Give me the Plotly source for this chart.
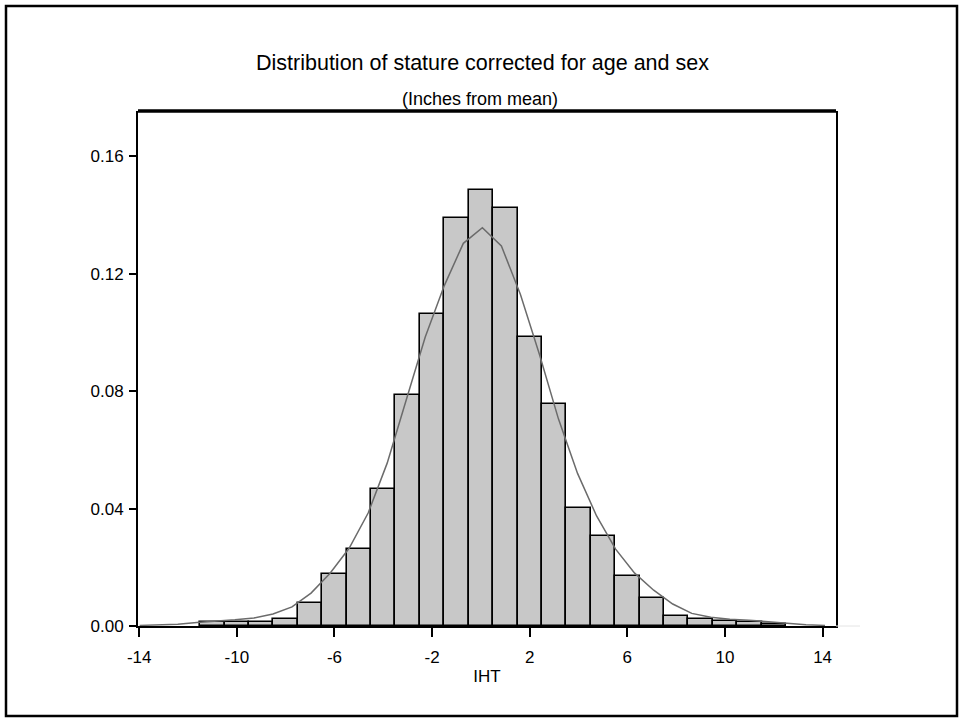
import plotly.graph_objects as go

# Histogram bins (inches from mean, bin centres) and densities
bin_centers = [-11, -10, -9, -8, -7, -6, -5, -4, -3, -2, -1, 0, 1, 2, 3, 4, 5, 6, 7, 8, 9, 10, 11, 12]
densities = [0.0014, 0.0012, 0.0012, 0.0025, 0.0079, 0.0177, 0.0264, 0.0466, 0.0788, 0.1062,
             0.1389, 0.1487, 0.1426, 0.0986, 0.0755, 0.0401, 0.0308, 0.0172, 0.0096, 0.0035,
             0.0023, 0.0016, 0.0013, 0.0007]

# Fitted density curve
curve_x = [-13.98, -13.20, -12.42, -11.64, -10.86, -10.08, -9.30, -8.52, -7.74, -6.96, -6.18,
           -5.40, -4.62, -3.84, -3.06, -2.28, -1.50, -0.72, 0.06, 0.84, 1.62, 2.40, 3.18, 3.96,
           4.74, 5.52, 6.30, 7.08, 7.86, 8.64, 9.42, 10.20, 10.98, 11.76, 12.54, 13.32, 14.10]
curve_y = [0.0002, 0.0003, 0.0006, 0.0012, 0.0016, 0.0021, 0.0027, 0.0041, 0.0065, 0.0112, 0.0180,
           0.0265, 0.0385, 0.0555, 0.0770, 0.0985, 0.1160, 0.1304, 0.1357, 0.1295, 0.1130, 0.0925,
           0.0705, 0.0520, 0.0375, 0.0262, 0.0180, 0.0122, 0.0075, 0.0043, 0.0030, 0.0023, 0.0020,
           0.0015, 0.0010, 0.0004, 0.0002]

x_ticks = [-14, -10, -6, -2, 2, 6, 10, 14]
y_ticks = [0.00, 0.04, 0.08, 0.12, 0.16]

title_text = "Distribution of stature corrected for age and sex"
subtitle_text = "(Inches from mean)"
x_title = "IHT"

W, H = 963, 721
ML, MR, MT, MB = 138, 127, 111, 95
pw, ph = W - ML - MR, H - MT - MB

def px(xp):
    return (xp - ML) / pw

def py(yp):
    return (H - MB - yp) / ph

font = "Liberation Sans, Arial, sans-serif"

fig = go.Figure()
fig.add_trace(go.Bar(x=bin_centers, y=densities, width=1,
                     marker=dict(color="#c8c8c8", line=dict(color="black", width=1.6)),
                     showlegend=False, hoverinfo="x+y"))
fig.add_trace(go.Scatter(x=curve_x, y=curve_y, mode="lines",
                         line=dict(color="#6b6b6b", width=1.5), showlegend=False))

fig.update_layout(
    width=W, height=H,
    margin=dict(l=ML, r=MR, t=MT, b=MB, pad=0),
    paper_bgcolor="white", plot_bgcolor="white",
    font=dict(family=font, color="black", size=17),
    bargap=0,
    xaxis=dict(range=[-14.05, 14.55], tickvals=x_ticks, ticktext=[str(v) for v in x_ticks],
               ticks="outside", ticklen=9, tickwidth=1.5, tickcolor="black",
               showline=True, linecolor="black", linewidth=2, showgrid=False, zeroline=False,
               tickfont=dict(size=17), ticklabelstandoff=6,
               title=dict(text=x_title, font=dict(size=17), standoff=4)),
    yaxis=dict(range=[0, 0.1755], tickvals=y_ticks, tickformat=".2f",
               ticks="outside", ticklen=7, tickwidth=1.5, tickcolor="black",
               showline=True, linecolor="black", linewidth=2, mirror=True,
               showgrid=False, zeroline=False, tickfont=dict(size=17), ticklabelstandoff=2),
    annotations=[
        dict(text=title_text, xref="paper", yref="paper", x=px(482), y=py(63),
             xanchor="center", yanchor="middle", showarrow=False, font=dict(size=21.5)),
        dict(text=subtitle_text, xref="paper", yref="paper", x=px(480), y=py(99),
             xanchor="center", yanchor="middle", showarrow=False, font=dict(size=18)),
    ],
    shapes=[
        dict(type="line", xref="paper", yref="paper", x0=0, x1=1, y0=1, y1=1,
             line=dict(color="black", width=3.5)),
        dict(type="line", xref="paper", yref="paper", x0=1, x1=px(860), y0=0, y1=0,
             line=dict(color="#e4e4e4", width=1)),
        dict(type="rect", xref="paper", yref="paper", x0=px(6), x1=px(957), y0=py(6), y1=py(716),
             line=dict(color="black", width=2.5), fillcolor="rgba(0,0,0,0)", layer="above"),
    ],
)

fig.write_html("out.html", config={"displayModeBar": False},
               post_script="document.body.style.margin='0';document.body.style.overflow='hidden';")
